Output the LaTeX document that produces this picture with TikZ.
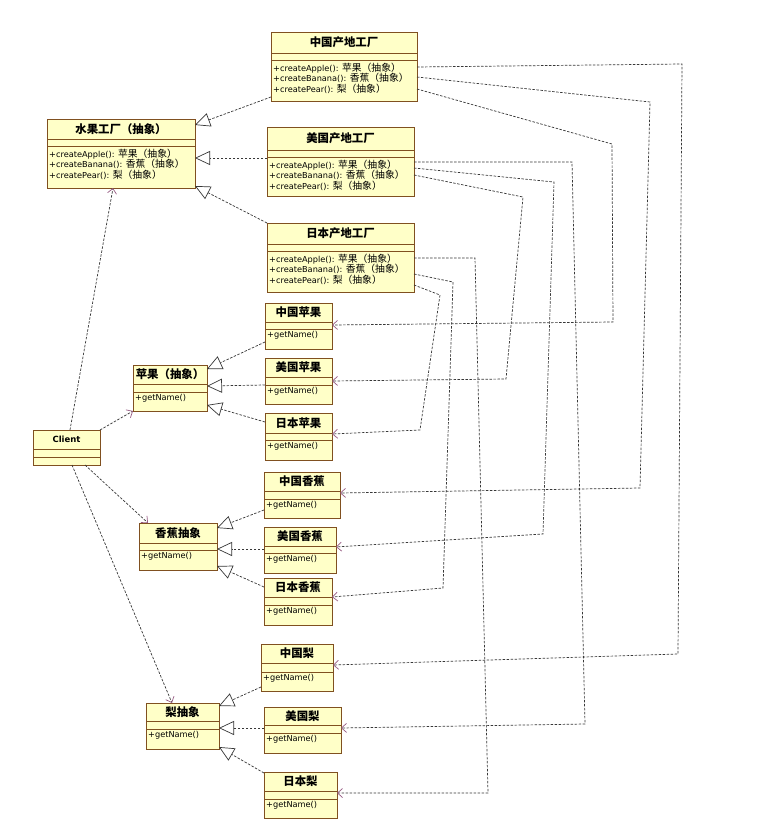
\documentclass[tikz,border=0pt]{standalone}
\usepackage{fontspec}
\setmainfont{DejaVu Sans}
\newfontfamily\cjk{Noto Sans CJK SC}
\usetikzlibrary{arrows.meta,calc}
\definecolor{boxfill}{RGB}{255,255,200}
\definecolor{boxdraw}{RGB}{128,80,32}
\definecolor{linec}{RGB}{55,55,55}
\definecolor{depc}{RGB}{150,90,130}
\tikzset{
 clsbox/.style={draw=boxdraw, fill=boxfill, line width=0.8pt, inner sep=0pt, outer sep=0pt},
 clsline/.style={draw=boxdraw, line width=0.6pt},
 clstitle/.style={font=\cjk\bfseries\fontsize{11.4}{12}\selectfont, inner sep=0pt},
 clsmeth/.style={font=\fontsize{8.2}{10.6}\selectfont, align=left, inner xsep=2pt, inner ysep=2.5pt},
 conn/.style={draw=linec, line width=0.7pt, dash pattern=on 2.5pt off 1.5pt},
 dep/.style={conn, -{Straight Barb[length=5pt,width=9pt,color=depc,line width=0.7pt]}},
 real/.style={conn, -{Triangle[open,length=15pt,width=14pt,fill=white,color=linec,line width=0.7pt]}},
}
\newcommand\cj[1]{{\cjk\fontsize{9.8}{10.6}\selectfont #1}}
\newcommand\fmeth{+createApple(): \cj{苹果（抽象）}\\+createBanana(): \cj{香蕉（抽象）}\\+createPear(): \cj{梨（抽象）}}
% #1 name, #2 x1, #3 y1, #4 x2, #5 sep1, #6 sep2, #7 y2, #8 title, #9 methods
\newcommand\umlcls[9]{%
 \node[clsbox, anchor=north west, minimum width={(#4-#2)*1pt}, minimum height={(#7-#3)*1pt}] (#1) at (#2,#3) {};
 \draw[clsline] (#2,#5) -- (#4,#5) (#2,#6) -- (#4,#6);
 \node[clstitle] (#1-t) at ({(#2+#4)/2},{(#3+#5)/2}) {#8};
 \node[clsmeth, anchor=north west] (#1-m) at (#2,#6) {#9};
}
\begin{document}
\begin{tikzpicture}[x=1pt,y=-1pt]
\useasboundingbox[fill=white] (0,0) rectangle (765,830);
% factories
\umlcls{cnF}{271}{32}{417}{53}{60}{101}{中国产地工厂}{\fmeth}
\umlcls{fruit}{47}{119}{195}{139}{146}{188}{水果工厂（抽象）}{\fmeth}
\umlcls{usF}{267}{127}{414}{150}{157}{196}{美国产地工厂}{\fmeth}
\umlcls{jpF}{267}{223}{414}{244}{251}{292}{日本产地工厂}{\fmeth}
% apples
\umlcls{cnA}{265}{303}{332}{322}{329}{349}{中国苹果}{+getName()}
\umlcls{usA}{265}{358}{332}{377}{385}{404}{美国苹果}{+getName()}
\umlcls{jpA}{265}{413}{332}{433}{440}{460}{日本苹果}{+getName()}
\umlcls{apple}{133}{365}{207}{384}{392}{411}{苹果（抽象）}{+getName()}
% client
\umlcls{client}{33}{430}{100}{449}{457}{465}{\rmfamily\bfseries\fontsize{8.5}{10}\selectfont Client}{}
% bananas
\umlcls{cnB}{264}{472}{340}{491}{499}{518}{中国香蕉}{+getName()}
\umlcls{usB}{264}{527}{336}{546}{553}{573}{美国香蕉}{+getName()}
\umlcls{jpB}{264}{578}{332}{597}{605}{625}{日本香蕉}{+getName()}
\umlcls{banana}{139}{523}{217}{543}{550}{570}{香蕉抽象}{+getName()}
% pears
\umlcls{cnP}{261}{644}{333}{663}{672}{691}{中国梨}{+getName()}
\umlcls{usP}{264}{707}{341}{725}{733}{753}{美国梨}{+getName()}
\umlcls{jpP}{264}{772}{337}{791}{799}{818}{日本梨}{+getName()}
\umlcls{pear}{146}{703}{219}{721}{729}{749}{梨抽象}{+getName()}
% realizations
\draw[real] (cnF.west |- 0,97) -- (fruit.east |- 0,125);
\draw[real] (usF.west |- 0,158) -- (fruit.east |- 0,158);
\draw[real] (jpF.north west) -- (fruit.east |- 0,186);
\draw[real] (cnA.west |- 0,342) -- (apple.east |- 0,369);
\draw[real] (usA.west |- 0,385) -- (apple.east |- 0,386);
\draw[real] (jpA.west |- 0,422) -- (apple.east |- 0,405);
\draw[real] (cnB.west |- 0,510) -- (banana.east |- 0,528);
\draw[real] (usB.west |- 0,549) -- (banana.east |- 0,549);
\draw[real] (jpB.west |- 0,587) -- (banana.east |- 0,566);
\draw[real] (cnP.west |- 0,687) -- (pear.east |- 0,706);
\draw[real] (usP.west |- 0,728) -- (pear.east |- 0,728);
\draw[real] (jpP.west |- 0,773) -- (pear.east |- 0,747);
% client dependencies
\draw[dep] (client.north -| 70,0) -- (fruit.south -| 113,0);
\draw[dep] (client.north east) -- (apple.south west);
\draw[dep] (client.south -| 85,0) -- (banana.north -| 148,0);
\draw[dep] (client.south -| 72,0) -- (pear.north -| 172,0);
% factory -> product dependencies
\draw[dep] (cnF.east |- 0,67) -- (682,64) -- (678,654) -- (cnP.east |- 0,665);
\draw[dep] (cnF.east |- 0,77) -- (650,102) -- (640,488) -- (cnB.east |- 0,493);
\draw[dep] (cnF.east |- 0,89) -- (612,144) -- (613,322) -- (cnA.east |- 0,325);
\draw[dep] (usF.east |- 0,162) -- (572,162) -- (585,724) -- (usP.east |- 0,728);
\draw[dep] (usF.east |- 0,168) -- (554,182) -- (543,534) -- (usB.east |- 0,547);
\draw[dep] (usF.east |- 0,175) -- (523,197) -- (506,379) -- (usA.east |- 0,381);
\draw[dep] (jpF.east |- 0,258) -- (475,258) -- (488,793) -- (jpP.east |- 0,793);
\draw[dep] (jpF.east |- 0,274) -- (453,282) -- (443,588) -- (jpB.east |- 0,597);
\draw[dep] (jpF.east |- 0,285) -- (440,295) -- (420,430) -- (jpA.east |- 0,434);
\end{tikzpicture}
\end{document}
